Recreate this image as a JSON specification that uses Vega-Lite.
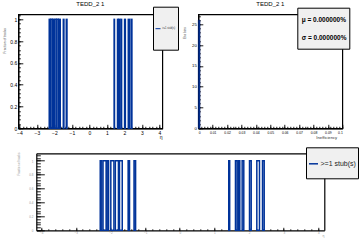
{
  "$schema": "https://vega.github.io/schema/vega-lite/v6.json",
  "background": "white",
  "padding": {"left": 18.3, "top": 14.3, "right": 341.7, "bottom": 225.7},
  "autosize": {"type": "none"},
  "config": {
    "font": "Liberation Sans",
    "view": {"stroke": "black", "strokeWidth": 1.2},
    "axis": {"grid": false, "domainColor": "black", "tickColor": "black", "labelColor": "black", "titleColor": "black", "labelFont": "Liberation Sans", "titleFont": "Liberation Sans", "titleFontWeight": "normal", "domainWidth": 1.2, "tickWidth": 0.9},
    "title": {"font": "Liberation Sans", "fontWeight": "normal", "fontSize": 6, "color": "black", "frame": "group"},
    "legend": {"labelFont": "Liberation Sans"}
  },
  "datasets": {
    "bins": [
      {"lo": -2.295, "hi": -2.25, "frac": 1},
      {"lo": -2.215, "hi": -2.125, "frac": 1},
      {"lo": -2.1, "hi": -2.055, "frac": 1},
      {"lo": -1.99, "hi": -1.9, "frac": 1},
      {"lo": -1.86, "hi": -1.77, "frac": 1},
      {"lo": -1.74, "hi": -1.66, "frac": 1},
      {"lo": -1.49, "hi": -1.45, "frac": 1},
      {"lo": -1.32, "hi": -1.275, "frac": 1},
      {"lo": 1.413, "hi": 1.44, "frac": 1},
      {"lo": 1.607, "hi": 1.656, "frac": 1},
      {"lo": 1.694, "hi": 1.731, "frac": 1},
      {"lo": 1.8, "hi": 1.847, "frac": 1},
      {"lo": 2.012, "hi": 2.061, "frac": 1},
      {"lo": 2.223, "hi": 2.3, "frac": 1},
      {"lo": 2.387, "hi": 2.436, "frac": 1}
    ],
    "ineff": [{"lo": 0, "hi": 0.0012, "n": 26}],
    "stats": [{"s": "μ = 0.000000%"}, {"s": "σ = 0.000000%"}]
  },
  "vconcat": [
    {
      "hconcat": [
        {
          "width": 144, "height": 114,
          "title": {"text": "TEDD_2 1", "offset": -1.2},
          "data": {"name": "bins"},
          "layer": [
            {
              "mark": {"type": "rect", "filled": false, "strokeWidth": 1.4},
              "encoding": {
                "x": {"field": "lo", "type": "quantitative", "title": "η",
                  "scale": {"domain": [-4.06, 4.17], "nice": false, "zero": false},
                  "axis": {"values": [-4, -3, -2, -1, 0, 1, 2, 3, 4], "format": "~g", "tickSize": -4, "labelPadding": 6, "labelFontSize": 5,
                    "titleFontSize": 5, "titleX": 143.7, "titleY": 8, "titleAlign": "right", "titleBaseline": "middle"}},
                "x2": {"field": "hi"},
                "y": {"field": "frac", "type": "quantitative", "title": "Fraction of tracks",
                  "scale": {"domain": [0, 1.046], "nice": false},
                  "axis": {"values": [0, 0.2, 0.4, 0.6, 0.8, 1], "format": "~g", "tickSize": -4.5, "labelPadding": 6, "labelFontSize": 5,
                    "titleFontSize": 3.3, "titleColor": "#444", "titleX": -13.8, "titleY": 26, "titleAlign": "center", "titleBaseline": "middle", "titleAngle": 270}},
                "y2": {"datum": 0},
                "color": {"datum": ">=1 stub(s)", "type": "nominal",
                  "scale": {"domain": [" ", ">=1 stub(s)", "  "], "range": ["rgba(0,0,0,0)", "#00339a", "rgba(0,0,0,0)"]},
                  "legend": {"orient": "none", "legendX": 134.7, "legendY": -7.6, "title": null, "fillColor": "#f0f0f0", "strokeColor": "black",
                    "padding": 2, "rowPadding": 12, "symbolType": "stroke", "symbolSize": 25, "symbolStrokeWidth": 1, "labelFontSize": 2.6, "labelOffset": 1, "labelColor": "#333"}}
              }
            },
            {
              "mark": {"type": "rect", "opacity": 0},
              "encoding": {
                "x": {"field": "lo", "type": "quantitative",
                  "axis": {"orient": "bottom", "values": [-4, -3.8, -3.6, -3.4, -3.2, -3, -2.8, -2.6, -2.4, -2.2, -2, -1.8, -1.6, -1.4, -1.2, -1, -0.8, -0.6, -0.4, -0.2, 0, 0.2, 0.4, 0.6, 0.8, 1, 1.2, 1.4, 1.6, 1.8, 2, 2.2, 2.4, 2.6, 2.8, 3, 3.2, 3.4, 3.6, 3.8, 4],
                    "labels": false, "domain": false, "tickSize": -2, "title": null}},
                "x2": {"field": "hi"},
                "y": {"field": "frac", "type": "quantitative",
                  "axis": {"orient": "left", "values": [0, 0.04, 0.08, 0.12, 0.16, 0.2, 0.24, 0.28, 0.32, 0.36, 0.4, 0.44, 0.48, 0.52, 0.56, 0.6, 0.64, 0.68, 0.72, 0.76, 0.8, 0.84, 0.88, 0.92, 0.96, 1, 1.04],
                    "labels": false, "domain": false, "tickSize": -2, "title": null}},
                "y2": {"datum": 0}
              }
            }
          ],
          "resolve": {"axis": {"x": "independent", "y": "independent"}}
        },
        {
          "width": 144, "height": 114,
          "title": {"text": "TEDD_2 1", "offset": -0.2},
          "layer": [
            {
              "data": {"name": "ineff"},
              "mark": {"type": "rect", "color": "#00339a", "stroke": "#001a66", "strokeWidth": 0.6},
              "encoding": {
                "x": {"field": "lo", "type": "quantitative", "title": "Inefficiency",
                  "scale": {"domain": [0, 0.1], "nice": false, "zero": false},
                  "axis": {"values": [0, 0.01, 0.02, 0.03, 0.04, 0.05, 0.06, 0.07, 0.08, 0.09, 0.1], "format": "~g", "tickSize": -4, "labelPadding": 6, "labelFontSize": 3.4,
                    "titleFontSize": 4.2, "titleColor": "#333", "titleX": 138.4, "titleY": 8.7, "titleAlign": "right", "titleBaseline": "middle"}},
                "x2": {"field": "hi"},
                "y": {"field": "n", "type": "quantitative", "title": "Eta bins",
                  "scale": {"domain": [0, 27.4], "nice": false},
                  "axis": {"values": [0, 5, 10, 15, 20, 25], "format": "~g", "tickSize": -4.5, "labelPadding": 6.5, "labelFontSize": 4.3,
                    "titleFontSize": 3.3, "titleColor": "#444", "titleX": -13.6, "titleY": 18.2, "titleAlign": "center", "titleBaseline": "middle", "titleAngle": 270}},
                "y2": {"datum": 0}
              }
            },
            {
              "data": {"name": "ineff"},
              "mark": {"type": "rect", "opacity": 0},
              "encoding": {
                "x": {"field": "lo", "type": "quantitative",
                  "axis": {"orient": "bottom", "values": [0, 0.002, 0.004, 0.006, 0.008, 0.01, 0.012, 0.014, 0.016, 0.018, 0.02, 0.022, 0.024, 0.026, 0.028, 0.03, 0.032, 0.034, 0.036, 0.038, 0.04, 0.042, 0.044, 0.046, 0.048, 0.05, 0.052, 0.054, 0.056, 0.058, 0.06, 0.062, 0.064, 0.066, 0.068, 0.07, 0.072, 0.074, 0.076, 0.078, 0.08, 0.082, 0.084, 0.086, 0.088, 0.09, 0.092, 0.094, 0.096, 0.098, 0.1],
                    "labels": false, "domain": false, "tickSize": -2, "title": null}},
                "x2": {"field": "hi"},
                "y": {"field": "n", "type": "quantitative",
                  "axis": {"orient": "left", "values": [0, 1, 2, 3, 4, 5, 6, 7, 8, 9, 10, 11, 12, 13, 14, 15, 16, 17, 18, 19, 20, 21, 22, 23, 24, 25, 26, 27],
                    "labels": false, "domain": false, "tickSize": -2, "title": null}},
                "y2": {"datum": 0}
              }
            },
            {
              "data": {"name": "stats"},
              "mark": {"type": "point", "opacity": 0},
              "encoding": {
                "color": {"field": "s", "type": "nominal",
                  "scale": {"domain": ["μ = 0.000000%", "σ = 0.000000%"], "range": ["black", "black"]},
                  "legend": {"orient": "none", "legendX": 99, "legendY": -6.6, "title": null, "fillColor": "#f0f0f0", "strokeColor": "black",
                    "padding": 2.4, "rowPadding": 0, "symbolSize": 289, "symbolOpacity": 0, "symbolType": "circle", "labelOffset": -17,
                    "labelFontSize": 6.5, "labelFontWeight": "bold", "labelColor": "black", "labelLimit": 200}}
              }
            }
          ],
          "resolve": {"axis": {"x": "independent", "y": "independent"}}
        }
      ],
      "spacing": 36,
      "bounds": "flush",
      "resolve": {"scale": {"color": "independent"}, "legend": {"color": "independent"}}
    },
    {
      "width": 306, "height": 77,
      "view": {"stroke": null},
      "data": {"name": "bins"},
      "layer": [
        {
          "mark": {"type": "rect", "filled": false, "strokeWidth": 1.5},
          "encoding": {
            "x": {"field": "lo", "type": "quantitative", "title": "η",
              "scale": {"domain": [-4.14, 4.17], "range": [18, 306], "nice": false, "zero": false},
              "axis": {"orient": "bottom", "values": [-4, -3, -2, -1, 0, 1, 2, 3, 4], "format": "~g", "tickSize": -3, "labelPadding": 3.5, "labelFontSize": 3, "labelColor": "#999",
                "titleFontSize": 3.5, "titleColor": "#999", "titleX": 305.7, "titleY": 5, "titleAlign": "right", "titleBaseline": "middle"}},
            "x2": {"field": "hi"},
            "y": {"field": "frac", "type": "quantitative", "title": "Fraction of tracks",
              "scale": {"domain": [0, 1.107], "nice": false},
              "axis": {"orient": "left", "values": [0, 0.2, 0.4, 0.6, 0.8, 1], "format": "~g", "offset": -18, "tickSize": -8, "labelPadding": 11.3, "labelFontSize": 3, "labelColor": "#999",
                "titleFontSize": 3, "titleColor": "#999", "titleX": -18.3, "titleY": 10.2, "titleAlign": "center", "titleBaseline": "middle", "titleAngle": 270}},
            "y2": {"datum": 0},
            "color": {"datum": ">=1 stub(s)", "type": "nominal",
              "scale": {"domain": [" ", ">=1 stub(s)", "  "], "range": ["rgba(0,0,0,0)", "#00339a", "rgba(0,0,0,0)"]},
              "legend": {"orient": "none", "legendX": 287.7, "legendY": -6, "title": null, "fillColor": "#f0f0f0", "strokeColor": "black",
                "padding": 2, "rowPadding": 0, "symbolType": "stroke", "symbolSize": 81, "symbolStrokeWidth": 1.5, "labelFontSize": 7, "labelOffset": 1.5, "labelColor": "#222"}}
          }
        },
        {
          "mark": {"type": "rect", "opacity": 0},
          "encoding": {
            "x": {"field": "lo", "type": "quantitative",
              "axis": {"orient": "bottom", "values": [-4, -3.8, -3.6, -3.4, -3.2, -3, -2.8, -2.6, -2.4, -2.2, -2, -1.8, -1.6, -1.4, -1.2, -1, -0.8, -0.6, -0.4, -0.2, 0, 0.2, 0.4, 0.6, 0.8, 1, 1.2, 1.4, 1.6, 1.8, 2, 2.2, 2.4, 2.6, 2.8, 3, 3.2, 3.4, 3.6, 3.8, 4],
                "labels": false, "domain": false, "tickSize": -1.5, "title": null}},
            "x2": {"field": "hi"},
            "y": {"field": "frac", "type": "quantitative",
              "axis": {"orient": "left", "values": [0, 0.04, 0.08, 0.12, 0.16, 0.2, 0.24, 0.28, 0.32, 0.36, 0.4, 0.44, 0.48, 0.52, 0.56, 0.6, 0.64, 0.68, 0.72, 0.76, 0.8, 0.84, 0.88, 0.92, 0.96, 1, 1.04, 1.08],
                "labels": false, "domain": false, "offset": -18, "tickSize": -4, "title": null}},
            "y2": {"datum": 0}
          }
        },
        {
          "mark": {"type": "rect", "opacity": 0},
          "encoding": {
            "x": {"field": "lo", "type": "quantitative",
              "axis": {"orient": "top", "labels": false, "ticks": false, "tickCount": 0, "domain": true, "title": null}},
            "x2": {"field": "hi"},
            "y": {"field": "frac", "type": "quantitative",
              "axis": {"orient": "right", "labels": false, "ticks": false, "tickCount": 0, "domain": true, "title": null}},
            "y2": {"datum": 0}
          }
        }
      ],
      "resolve": {"axis": {"x": "independent", "y": "independent"}}
    }
  ],
  "spacing": 139,
  "bounds": "flush",
  "resolve": {"scale": {"color": "independent"}, "legend": {"color": "independent"}}
}
